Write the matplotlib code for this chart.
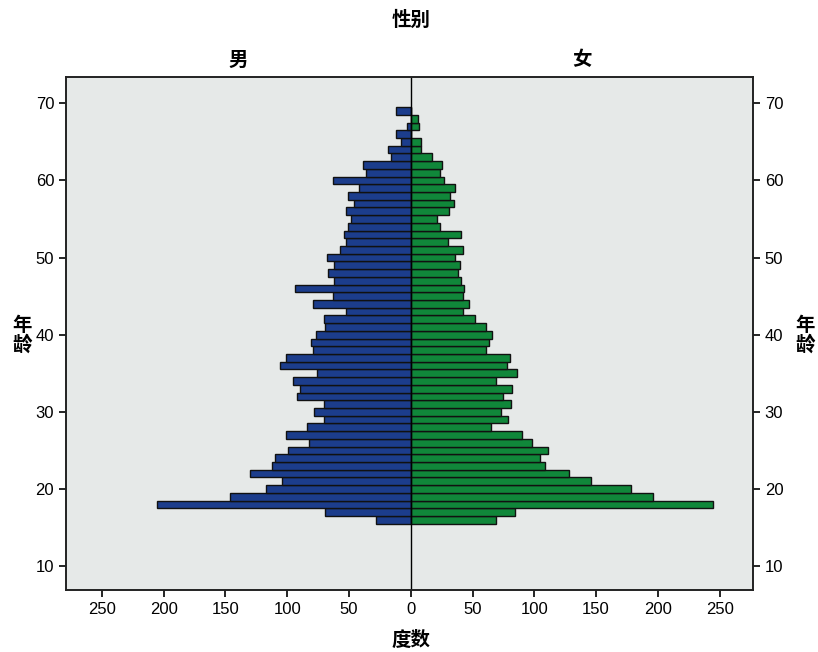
import numpy as np
import matplotlib
matplotlib.use('Agg')
from matplotlib import pyplot as plt

plt.rcParams['font.family'] = ['Liberation Sans Narrow', 'Liberation Sans', 'Noto Sans CJK SC', 'DejaVu Sans']

# ages (one bar per year)
ages = list(range(16, 70))

# counts, male (男) and female (女), age 16 .. 69
male = [28, 69, 205, 146, 117, 104, 130, 112, 110, 99,
        82, 101, 84, 70, 78, 70, 92, 90, 95, 76,
        106, 101, 79, 81, 77, 69, 70, 52, 79, 63,
        94, 62, 67, 62, 68, 57, 52, 54, 51, 48,
        52, 46, 51, 42, 63, 36, 39, 16, 18, 8,
        12, 3, 0, 12]
female = [69, 84, 245, 196, 178, 146, 128, 109, 105, 111,
          98, 90, 65, 79, 73, 81, 75, 82, 69, 86,
          78, 80, 61, 63, 66, 61, 52, 42, 47, 42,
          43, 41, 38, 40, 36, 42, 30, 41, 24, 21,
          31, 35, 32, 36, 27, 24, 25, 17, 8, 8,
          0, 7, 6, 0]

xticks = [-250, -200, -150, -100, -50, 0, 50, 100, 150, 200, 250]
yticks = [10, 20, 30, 40, 50, 60, 70]

cjk = ['Noto Sans CJK SC', 'DejaVu Sans']

fig = plt.figure(figsize=(8.18, 6.52), dpi=100)
ax = fig.add_axes([0.0807, 0.0951, 0.8398, 0.7868])
ax.set_facecolor('#e6e9e8')

ax.barh(ages, [-m for m in male], height=1.0, color='#1c3d8c',
        edgecolor='#111111', linewidth=1.0)
ax.barh(ages, female, height=1.0, color='#10873a',
        edgecolor='#111111', linewidth=1.0)
ax.axvline(0, color='black', linewidth=1.0)

ax.set_xlim(-279, 277)
ax.set_ylim(6.9, 73.4)
ax.set_xticks(xticks)
ax.set_xticklabels([str(abs(t)) for t in xticks])
ax.set_yticks(yticks)
ax.tick_params(axis='both', direction='out', length=5, width=1.2,
               labelsize=12, colors='black')

ax2 = ax.twinx()
ax2.set_ylim(ax.get_ylim())
ax2.set_yticks(yticks)
ax2.tick_params(axis='y', direction='out', length=5, width=1.2,
                labelsize=12, colors='black')

for a in (ax, ax2):
    for s in a.spines.values():
        s.set_linewidth(1.2)
        s.set_color('#222222')

# titles and axis labels
fig.text(411 / 818, 1 - 20 / 652, '性别', ha='center', va='center',
         fontsize=14, fontweight='bold', family=cjk)
fig.text(238 / 818, 1 - 60 / 652, '男', ha='center', va='center',
         fontsize=14, fontweight='bold', family=cjk)
fig.text(582 / 818, 1 - 60 / 652, '女', ha='center', va='center',
         fontsize=14, fontweight='bold', family=cjk)
fig.text(411 / 818, 1 - 640 / 652, '度数', ha='center', va='center',
         fontsize=14, fontweight='bold', family=cjk)
for xp in (22, 805):
    fig.text(xp / 818, 1 - 335 / 652, '年\n龄', ha='center', va='center',
             fontsize=14, fontweight='bold', family=cjk, linespacing=1.0)

fig.savefig('out.png', dpi=100, facecolor='white')
